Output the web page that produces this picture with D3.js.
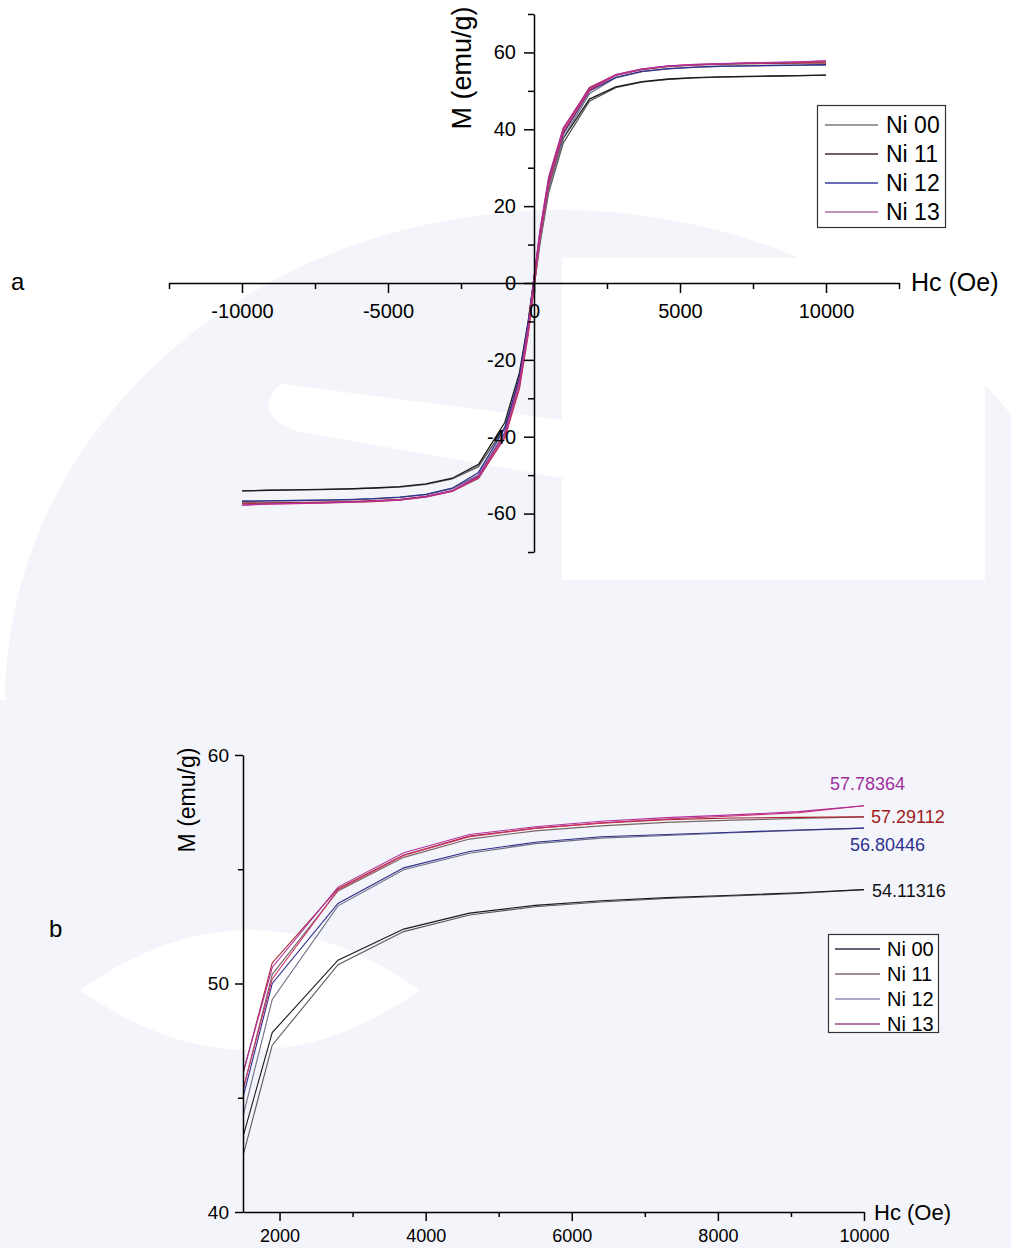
<!DOCTYPE html>
<html>
<head>
<meta charset="utf-8">
<script src="https://cdn.jsdelivr.net/npm/d3@7"></script>
<style>
  body { margin: 0; background: #fff; }
  svg { display: block; font-family: "Liberation Sans", Arial, sans-serif; }
</style>
</head>
<body>
<div id="canvas"></div>
<script>
"use strict";

// data
const sampleNames = ["Ni 00", "Ni 11", "Ni 12", "Ni 13"];

// applied field (Oe), same grid for both loop branches
const hField = [10000, 9100, 8200, 7300, 6400, 5500, 4600, 3700, 2800, 1900, 1000, 500, 200, 0,
  -200, -500, -1000, -1900, -2800, -3700, -4600, -5500, -6400, -7300, -8200, -9100, -10000];

// magnetisation (emu/g), upper and lower branch of each loop
const ni00Upper = [54.11, 53.97, 53.86, 53.76, 53.62, 53.42, 53.08, 52.38, 51.02, 47.85, 37.6, 25.5, 12.0, 1.2,
  -10.0, -23.4, -36.3, -47.2, -50.8, -52.3, -53.0, -53.35, -53.55, -53.7, -53.82, -53.93, -54.1];
const ni00Lower = [54.11, 53.94, 53.83, 53.72, 53.57, 53.36, 53.0, 52.27, 50.82, 47.3, 36.4, 23.5, 10.0, -1.0,
  -12.1, -25.6, -37.5, -47.8, -51.0, -52.4, -53.1, -53.4, -53.6, -53.75, -53.85, -53.95, -54.1];
const ni11Upper = [57.29, 57.27, 57.24, 57.17, 57.02, 56.8, 56.45, 55.62, 54.15, 50.9, 40.0, 27.0, 13.0, 1.3,
  -11.0, -25.0, -39.0, -50.4, -54.05, -55.5, -56.3, -56.65, -56.9, -57.05, -57.15, -57.22, -57.29];
const ni11Lower = [57.29, 57.22, 57.15, 57.05, 56.9, 56.68, 56.32, 55.52, 54.05, 50.4, 39.0, 25.0, 11.0, -1.1,
  -13.0, -27.0, -40.0, -50.9, -54.15, -55.6, -56.45, -56.8, -57.02, -57.17, -57.24, -57.27, -57.29];
const ni12Upper = [56.8, 56.72, 56.62, 56.52, 56.42, 56.18, 55.78, 55.06, 53.5, 50.0, 38.8, 26.0, 12.5, 1.2,
  -10.5, -24.5, -37.8, -49.3, -53.4, -54.98, -55.7, -56.12, -56.36, -56.48, -56.6, -56.7, -56.8];
const ni12Lower = [56.8, 56.7, 56.6, 56.48, 56.36, 56.12, 55.7, 54.98, 53.4, 49.3, 37.8, 24.5, 10.5, -1.0,
  -12.5, -26.0, -38.8, -50.0, -53.5, -55.06, -55.78, -56.18, -56.42, -56.52, -56.62, -56.72, -56.8];
const ni13Upper = [57.78, 57.52, 57.38, 57.26, 57.1, 56.86, 56.52, 55.72, 54.22, 50.7, 40.3, 27.5, 13.5, 1.4,
  -11.5, -25.5, -39.3, -50.2, -54.1, -55.6, -56.42, -56.78, -57.03, -57.2, -57.33, -57.48, -57.78];
const ni13Lower = [57.78, 57.48, 57.33, 57.2, 57.03, 56.78, 56.42, 55.6, 54.1, 50.2, 39.3, 25.5, 11.5, -1.2,
  -13.5, -27.5, -40.3, -50.7, -54.22, -55.72, -56.52, -56.86, -57.1, -57.26, -57.38, -57.52, -57.78];

// saturation values printed at the end of panel b
const endValues = [54.11316, 57.29112, 56.80446, 57.78364];
const endLabels = ["54.11316", "57.29112", "56.80446", "57.78364"];

// tick values
const topXMajor = [-10000, -5000, 0, 5000, 10000];
const topXMinor = [-12500, -7500, -2500, 2500, 7500, 12500];
const topYMajor = [-60, -40, -20, 0, 20, 40, 60];
const topYMinor = [-70, -50, -30, -10, 10, 30, 50, 70];
const botXMajor = [2000, 4000, 6000, 8000, 10000];
const botXMinor = [3000, 5000, 7000, 9000];
const botYMajor = [40, 50, 60];
const botYMinor = [45, 55];

const upperBranch = [ni00Upper, ni11Upper, ni12Upper, ni13Upper];
const lowerBranch = [ni00Lower, ni11Lower, ni12Lower, ni13Lower];

// colours
const upperColors = ["#1a1a1a", "#a8242c", "#2e2e8c", "#b0309e"];
const lowerColors = ["#5a5a5a", "#7a6464", "#6e6e86", "#d0306a"];
const legendTopColors = ["#7a7a7a", "#4a2a2a", "#3a3aa0", "#b070a0"];
const legendBotColors = ["#30304a", "#a09090", "#9a8ab8", "#9a4a8a"];
const endLabelColors = ["#111111", "#a02020", "#303090", "#a030a0"];

const width = 1011;
const height = 1248;
const plain = d => String(d);   // hyphen minus like the original

const svg = d3.select("#canvas")
  .append("svg")
  .attr("width", width)
  .attr("height", height);

// faint watermark behind both panels
const wm = svg.append("g").attr("fill", "#f3f5fa");
wm.append("ellipse").attr("cx", 560).attr("cy", 700).attr("rx", 555).attr("ry", 490);
wm.append("rect").attr("x", 0).attr("y", 700).attr("width", width).attr("height", height - 700);
const wmw = svg.append("g").attr("fill", "#ffffff");
wmw.append("rect").attr("x", 562).attr("y", 258).attr("width", 423).attr("height", 322);
wmw.append("path").attr("d", "M282,384 L562,420 L562,478 L300,432 Q262,420 270,400 Q274,388 282,384 Z");
wmw.append("path").attr("d", "M80,990 Q250,870 420,990 Q250,1110 80,990 Z");
wm.append("rect").attr("x", 140).attr("y", 982).attr("width", 276).attr("height", 13);

function styleAxis(g, size) {
  g.attr("font-size", null).attr("font-family", null);
  g.selectAll("path, line").attr("stroke", "#000").attr("stroke-width", 1.5);
  g.selectAll("text").style("font-size", size + "px").attr("fill", "#000");
}

// ---------- panel a ----------
const xTop = d3.scaleLinear().domain([-12500, 12500]).range([169, 899]);
const yTop = d3.scaleLinear().domain([-70, 70]).range([552, 14]);

const lineTop = d3.line()
  .x((d, i) => xTop(hField[i]))
  .y(d => yTop(d));

const curvesTop = svg.append("g").attr("fill", "none").attr("stroke-width", 1.3);
sampleNames.forEach((name, k) => {
  curvesTop.append("path").attr("d", lineTop(lowerBranch[k])).attr("stroke", lowerColors[k]);
  curvesTop.append("path").attr("d", lineTop(upperBranch[k])).attr("stroke", upperColors[k]);
});

const gxTop = svg.append("g").attr("transform", `translate(0,${yTop(0)})`);
gxTop.call(d3.axisBottom(xTop).tickValues(topXMajor).tickSize(10).tickSizeOuter(0).tickFormat(plain));
gxTop.append("g").call(d3.axisBottom(xTop).tickValues(topXMinor).tickSize(6).tickFormat(""))
  .select(".domain").remove();
styleAxis(gxTop, 20);
gxTop.selectAll("text").attr("y", 35).attr("dy", null);

const gyTop = svg.append("g").attr("transform", `translate(${xTop(0)},0)`);
gyTop.call(d3.axisLeft(yTop).tickValues(topYMajor).tickSize(10).tickSizeOuter(0).tickFormat(plain));
gyTop.append("g").call(d3.axisLeft(yTop).tickValues(topYMinor).tickSize(6).tickFormat(""))
  .select(".domain").remove();
styleAxis(gyTop, 20);
gyTop.selectAll("text").attr("x", -18);

svg.append("text")
  .attr("transform", `translate(462,68) rotate(-90)`)
  .attr("text-anchor", "middle")
  .attr("dominant-baseline", "central")
  .style("font-size", "27px")
  .text("M (emu/g)");

svg.append("text")
  .attr("x", 911)
  .attr("y", 291)
  .style("font-size", "25px")
  .text("Hc (Oe)");

svg.append("text")
  .attr("x", 11)
  .attr("y", 290)
  .style("font-size", "24px")
  .text("a");

// legend a
const legTop = svg.append("g");
legTop.append("rect")
  .attr("x", 817.5).attr("y", 105.5).attr("width", 128).attr("height", 122)
  .attr("fill", "#fff").attr("stroke", "#333").attr("stroke-width", 1.2);
sampleNames.forEach((name, k) => {
  const y = 125 + k * 29;
  legTop.append("line").attr("x1", 825).attr("x2", 878).attr("y1", y).attr("y2", y)
    .attr("stroke", legendTopColors[k]).attr("stroke-width", 1.4);
  legTop.append("text").attr("x", 886).attr("y", y + 8).style("font-size", "23px").text(name);
});

// ---------- panel b ----------
const xBot = d3.scaleLinear().domain([1500, 10000]).range([243, 864]);
const yBot = d3.scaleLinear().domain([40, 60]).range([1212, 755]);

svg.append("clipPath").attr("id", "clipBot")
  .append("rect").attr("x", 243).attr("y", 755).attr("width", 621).attr("height", 457);

const positive = hField.map((h, i) => i).filter(i => hField[i] >= 1000);

function branchLine(values) {
  return d3.line().x(i => xBot(hField[i])).y(i => yBot(values[i]))(positive);
}

const curvesBot = svg.append("g").attr("fill", "none").attr("stroke-width", 1.1)
  .attr("clip-path", "url(#clipBot)");
sampleNames.forEach((name, k) => {
  curvesBot.append("path").attr("d", branchLine(lowerBranch[k])).attr("stroke", lowerColors[k]);
  curvesBot.append("path").attr("d", branchLine(upperBranch[k])).attr("stroke", upperColors[k]);
});

const gxBot = svg.append("g").attr("transform", `translate(0,${yBot(40)})`);
gxBot.call(d3.axisBottom(xBot).tickValues(botXMajor).tickSize(9).tickSizeOuter(0).tickFormat(plain));
gxBot.append("g").call(d3.axisBottom(xBot).tickValues(botXMinor).tickSize(5).tickFormat(""))
  .select(".domain").remove();
styleAxis(gxBot, 18);
gxBot.selectAll("text").attr("y", 30).attr("dy", null);

const gyBot = svg.append("g").attr("transform", `translate(${xBot(1500)},0)`);
gyBot.call(d3.axisLeft(yBot).tickValues(botYMajor).tickSize(8).tickSizeOuter(0).tickFormat(plain));
gyBot.append("g").call(d3.axisLeft(yBot).tickValues(botYMinor).tickSize(5).tickFormat(""))
  .select(".domain").remove();
styleAxis(gyBot, 19);
gyBot.selectAll("text").attr("x", -14);

svg.append("text")
  .attr("transform", `translate(187,800) rotate(-90)`)
  .attr("text-anchor", "middle")
  .attr("dominant-baseline", "central")
  .style("font-size", "23px")
  .text("M (emu/g)");

svg.append("text")
  .attr("x", 874)
  .attr("y", 1220)
  .style("font-size", "22px")
  .text("Hc (Oe)");

svg.append("text")
  .attr("x", 49)
  .attr("y", 937)
  .style("font-size", "24px")
  .text("b");

// saturation labels next to the curve ends
const labelDx = [8, 7, -14, -34];
const labelDy = [1, 0, 17, -22];
endValues.forEach((v, k) => {
  svg.append("text")
    .attr("x", xBot(10000) + labelDx[k])
    .attr("y", yBot(v) + labelDy[k])
    .attr("dominant-baseline", "central")
    .attr("fill", endLabelColors[k])
    .style("font-size", "18px")
    .text(endLabels[k]);
});

// legend b
const legBot = svg.append("g");
legBot.append("rect")
  .attr("x", 828.5).attr("y", 934.5).attr("width", 110).attr("height", 98)
  .attr("fill", "#fff").attr("stroke", "#333").attr("stroke-width", 1.2);
sampleNames.forEach((name, k) => {
  const y = 949 + k * 25;
  legBot.append("line").attr("x1", 835).attr("x2", 880).attr("y1", y).attr("y2", y)
    .attr("stroke", legendBotColors[k]).attr("stroke-width", k === 1 ? 2 : 1.3);
  legBot.append("text").attr("x", 887).attr("y", y + 7).style("font-size", "20px").text(name);
});
</script>
</body>
</html>
